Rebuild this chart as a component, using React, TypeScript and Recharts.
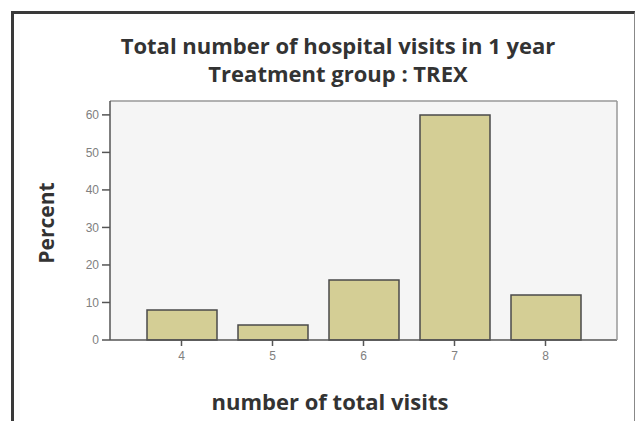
import React from 'react';
import { BarChart, Bar, XAxis, YAxis, CartesianGrid } from 'recharts';

const categories = ['4', '5', '6', '7', '8'];
const percentValues = [8, 4, 16, 60, 12];
const yTicks = [0, 10, 20, 30, 40, 50, 60];

const data = categories.map((c, i) => ({ visits: c, percent: percentValues[i] }));

const titleFont = '"Open Sans", Lato, sans-serif';

export default function App() {
  return (
    <div style={{ position: 'absolute', left: 0, top: 0, width: 635, height: 421, background: '#fff', overflow: 'hidden' }}>
      <div
        style={{
          position: 'absolute',
          left: 11,
          top: 11,
          width: 620,
          height: 430,
          borderLeft: '3px solid #3a3a3a',
          borderTop: '3px solid #3a3a3a',
          borderRight: '1px solid #888',
        }}
      />
      <div style={{ position: 'absolute', left: 0, top: 31, width: 676, textAlign: 'center', fontFamily: titleFont, fontWeight: 700, fontSize: 22, color: '#333', lineHeight: '28px' }}>
        Total number of hospital visits in 1 year
      </div>
      <div style={{ position: 'absolute', left: 0, top: 59, width: 676, textAlign: 'center', fontFamily: titleFont, fontWeight: 700, fontSize: 22, color: '#333', lineHeight: '28px' }}>
        Treatment group : TREX
      </div>
      <div style={{ position: 'absolute', left: 46, top: 223, width: 0, height: 0 }}>
        <div style={{ position: 'absolute', left: -60, top: -14, width: 120, textAlign: 'center', transform: 'rotate(-90deg)', fontFamily: titleFont, fontWeight: 700, fontSize: 21, color: '#333', lineHeight: '28px' }}>
          Percent
        </div>
      </div>
      <div style={{ position: 'absolute', left: 112, top: 387, width: 436, textAlign: 'center', fontFamily: titleFont, fontWeight: 700, fontSize: 22, color: '#333', lineHeight: '28px' }}>
        number of total visits
      </div>
      <div style={{ position: 'absolute', left: 0, top: 0 }}>
        <BarChart width={635} height={421} data={data} margin={{ top: 100, right: 17, bottom: 51, left: 0 }}>
          <CartesianGrid horizontal={false} vertical={false} fill="#f5f5f5" />
          <XAxis
            dataKey="visits"
            xAxisId="bottom"
            height={30}
            padding={{ left: 26, right: 26 }}
            tickSize={6}
            tickMargin={5}
            axisLine={{ stroke: '#555', strokeWidth: 1.5 }}
            tickLine={{ stroke: '#555', strokeWidth: 1.5 }}
            tick={{ fill: '#808080', fontSize: 12, fontFamily: 'Liberation Sans, Arial, sans-serif' }}
          />
          <XAxis
            dataKey="visits"
            xAxisId="top"
            orientation="top"
            height={1}
            tick={false}
            tickLine={false}
            axisLine={{ stroke: '#999', strokeWidth: 1.5 }}
          />
          <YAxis
            yAxisId="left"
            width={110}
            domain={[0, 63.7]}
            ticks={yTicks}
            tickSize={8}
            tickMargin={3}
            interval={0}
            axisLine={{ stroke: '#555', strokeWidth: 1.5 }}
            tickLine={{ stroke: '#555', strokeWidth: 1.5 }}
            tick={{ fill: '#808080', fontSize: 12, fontFamily: 'Liberation Sans, Arial, sans-serif' }}
          />
          <YAxis
            yAxisId="right"
            orientation="right"
            width={1}
            domain={[0, 63.7]}
            tick={false}
            tickLine={false}
            axisLine={{ stroke: '#999', strokeWidth: 1.5 }}
          />
          <Bar
            dataKey="percent"
            xAxisId="bottom"
            yAxisId="left"
            barSize={70}
            fill="#d4ce95"
            stroke="#4a4a4a"
            strokeWidth={1.5}
            isAnimationActive={false}
          />
        </BarChart>
      </div>
    </div>
  );
}
